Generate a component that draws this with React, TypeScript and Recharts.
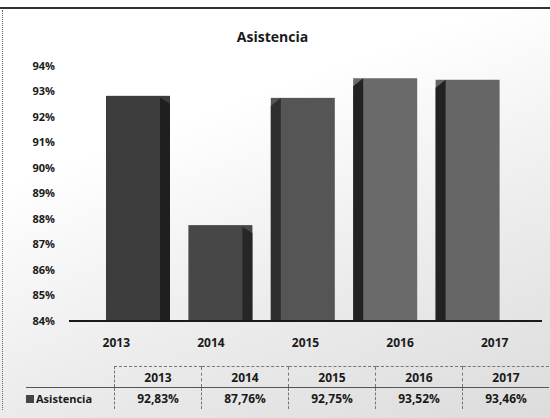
import React from 'react';
import { BarChart, Bar, XAxis, YAxis, Cell } from 'recharts';

const years = ['2013', '2014', '2015', '2016', '2017'];
const asistencia = [92.83, 87.76, 92.75, 93.52, 93.46];
const yTicks = [84, 85, 86, 87, 88, 89, 90, 91, 92, 93, 94];

const COLORS = ['#3c3c3c', '#474747', '#555555', '#6a6a6a', '#666666'];
const SIDE = ['#1f1f1f', '#262626', '#2e2e2e', '#222222', '#222222'];

const chartData = years.map((y, i) => ({ year: y, value: asistencia[i] }));

const fmtPct = (v: number) => v.toFixed(2).replace('.', ',') + '%';

const font = '"Open Sans", "Noto Sans", sans-serif';

// bar with a shaded side face to mimic the 3D columns
const Bar3D = (props: any) => {
  const { x, y, width, height, index } = props;
  const side = 10;
  const sideOnRight = index < 2;
  const fill = COLORS[index % COLORS.length];
  const dark = SIDE[index % SIDE.length];
  return (
    <g>
      <rect x={x} y={y} width={width} height={height} fill={fill} />
      {sideOnRight ? (
        <path d={`M${x + width - side},${y + 2} L${x + width},${y + 8} L${x + width},${y + height} L${x + width - side},${y + height} Z`} fill={dark} />
      ) : (
        <path d={`M${x},${y + 8} L${x + side},${y} L${x + side},${y + height} L${x},${y + height} Z`} fill={dark} />
      )}
    </g>
  );
};

const cell: React.CSSProperties = {
  borderLeft: '1px dashed #777',
  textAlign: 'center',
  padding: 0,
  height: 20,
};

const App: React.FC = () => {
  return (
    <div
      style={{
        position: 'fixed',
        left: 0,
        top: 0,
        width: 550,
        height: 418,
        overflow: 'hidden',
        background: 'linear-gradient(160deg, #ffffff 30%, #ececec 65%, #dcdcdc 100%)',
        fontFamily: font,
      }}
    >
      <div style={{ position: 'absolute', left: 0, top: 7, width: 550, height: 2, background: '#333' }} />
      <div style={{ position: 'absolute', left: 2, top: 10, width: 0, height: 400, borderLeft: '1px dotted #666' }} />
      <div
        style={{
          position: 'absolute',
          left: 0,
          top: 27,
          width: 545,
          textAlign: 'center',
          fontSize: 14,
          fontWeight: 700,
          color: '#1a1a1a',
        }}
      >
        Asistencia
      </div>
      <div style={{ position: 'absolute', left: 0, top: 0 }}>
        <BarChart width={550} height={360} data={chartData} margin={{ top: 66, right: 8, left: 0, bottom: 0 }}>
          <XAxis
            xAxisId="bars"
            dataKey="year"
            hide
            height={0}
            padding={{ left: 28, right: 33 }}
          />
          <XAxis
            xAxisId="labels"
            dataKey="year"
            height={39}
            axisLine={{ stroke: '#1a1a1a', strokeWidth: 2 }}
            tickLine={false}
            tickMargin={11}
            tick={{ fill: '#1a1a1a', fontSize: 12, fontWeight: 700, fontFamily: font }}
          />
          <YAxis
            width={69}
            domain={[84, 94]}
            ticks={yTicks}
            allowDataOverflow
            axisLine={false}
            tickLine={false}
            tickMargin={8}
            tickFormatter={(v: number) => `${v}%`}
            tick={{ fill: '#1a1a1a', fontSize: 11, fontWeight: 700, fontFamily: font }}
          />
          <Bar xAxisId="bars" dataKey="value" barSize={64} shape={<Bar3D />} isAnimationActive={false}>
            {chartData.map((d, i) => (
              <Cell key={d.year} fill={COLORS[i % COLORS.length]} />
            ))}
          </Bar>
        </BarChart>
      </div>
      <table
        style={{
          position: 'absolute',
          left: 26,
          top: 366,
          borderCollapse: 'collapse',
          fontSize: 12,
          fontWeight: 700,
          color: '#1a1a1a',
          fontFamily: font,
        }}
      >
        <tbody>
          <tr>
            <td style={{ width: 88, height: 20, padding: 0 }} />
            {years.map((y) => (
              <td key={y} style={{ ...cell, width: 86, borderTop: '1px dashed #777', borderBottom: '1px solid #555' }}>
                {y}
              </td>
            ))}
          </tr>
          <tr>
            <td style={{ height: 21, padding: 0, borderTop: '1px solid #555', whiteSpace: 'nowrap', fontSize: 11 }}>
              <span style={{ display: 'inline-block', width: 8, height: 8, background: '#444', marginRight: 2 }} />
              Asistencia
            </td>
            {asistencia.map((v, i) => (
              <td key={years[i]} style={{ ...cell, height: 21 }}>
                {fmtPct(v)}
              </td>
            ))}
          </tr>
        </tbody>
      </table>
    </div>
  );
};

export default App;
